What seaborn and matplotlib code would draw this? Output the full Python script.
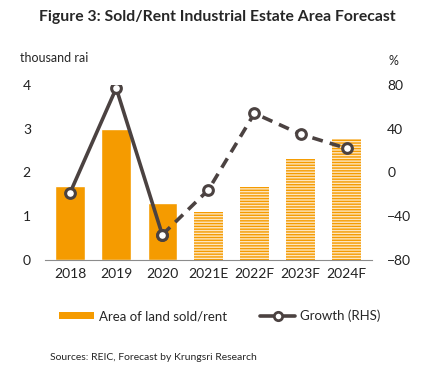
import seaborn as sns
import matplotlib.pyplot as plt
import numpy as np
import pandas as pd
from matplotlib.lines import Line2D
from matplotlib.patches import Patch

years = ['2018', '2019', '2020', '2021E', '2022F', '2023F', '2024F']
area = [1.69, 3.0, 1.30, 1.10, 1.67, 2.31, 2.77]
growth = [-18.5, 77.0, -57.0, -16.0, 54.0, 35.0, 22.0]
n_actual = 3

ORANGE = '#F59B00'
LIGHT = '#FDE6C0'
GREY = '#4B4241'

sns.set_style('white')
plt.rcParams['font.family'] = ['Lato', 'DejaVu Sans']
plt.rcParams['hatch.linewidth'] = 1.0

df = pd.DataFrame({'year': years, 'area': area, 'growth': growth})
idx = np.arange(len(years))

fig = plt.figure(figsize=(4.35, 3.74), dpi=100)
ax = fig.add_axes([0.103, 0.305, 0.752, 0.468])

sns.barplot(data=df, x='year', y='area', color=ORANGE, width=0.64,
            saturation=1, ax=ax)
# forecast years get the striped fill
for i, bar in enumerate(ax.patches):
    if i >= n_actual:
        bar.set_facecolor(LIGHT)
        bar.set_hatch('------')
        bar.set_edgecolor(ORANGE)
        bar.set_linewidth(0)

ax.set_ylim(0, 4)
ax.set_yticks([0, 1, 2, 3, 4])
ax.set_xlabel('')
ax.set_ylabel('')
ax.tick_params(axis='both', length=0, labelsize=10, colors='#222222')
ax.tick_params(axis='y', pad=10)
ax.tick_params(axis='x', pad=6)
for s in ['top', 'right', 'left']:
    ax.spines[s].set_visible(False)
ax.spines['bottom'].set_color('#8c8c8c')

ax2 = ax.twinx()
sns.lineplot(x=idx[:n_actual], y=growth[:n_actual], ax=ax2, color=GREY,
             linewidth=2.6, marker='o', markersize=7, markerfacecolor='white',
             markeredgecolor=GREY, markeredgewidth=2.2)
sns.lineplot(x=idx[n_actual - 1:], y=growth[n_actual - 1:], ax=ax2, color=GREY,
             linewidth=2.6, linestyle=(0, (3, 2)), marker='o', markersize=7,
             markerfacecolor='white', markeredgecolor=GREY, markeredgewidth=2.2)
ax2.set_ylim(-80, 80)
ax2.set_yticks([-80, -40, 0, 40, 80])
ax2.tick_params(axis='y', length=0, labelsize=10, colors='#222222', pad=11)
for s in ['top', 'right', 'left', 'bottom']:
    ax2.spines[s].set_visible(False)
ax.set_xlim(-0.55, 6.55)

fig.text(0.5, 0.955, 'Figure 3: Sold/Rent Industrial Estate Area Forecast',
         ha='center', va='center', fontsize=11.3, fontweight='bold')
fig.text(0.045, 0.845, 'thousand rai', ha='left', va='center', fontsize=9)
fig.text(0.905, 0.838, '%', ha='center', va='center', fontsize=9)
fig.text(0.115, 0.043, 'Sources: REIC, Forecast by Krungsri Research',
         ha='left', va='center', fontsize=7.5)

handles = [Patch(facecolor=ORANGE, edgecolor='none'),
           Line2D([0], [0], color=GREY, linewidth=2.6, marker='o', markersize=6,
                  markerfacecolor='white', markeredgecolor=GREY, markeredgewidth=2)]
fig.legend(handles, ['Area of land sold/rent', 'Growth (RHS)'],
           loc='center', bbox_to_anchor=(0.505, 0.155), ncol=2, frameon=False,
           fontsize=9.5, handlelength=2.65, handleheight=0.45, columnspacing=2.5,
           handletextpad=0.35)

fig.savefig('out.png', dpi=100)
